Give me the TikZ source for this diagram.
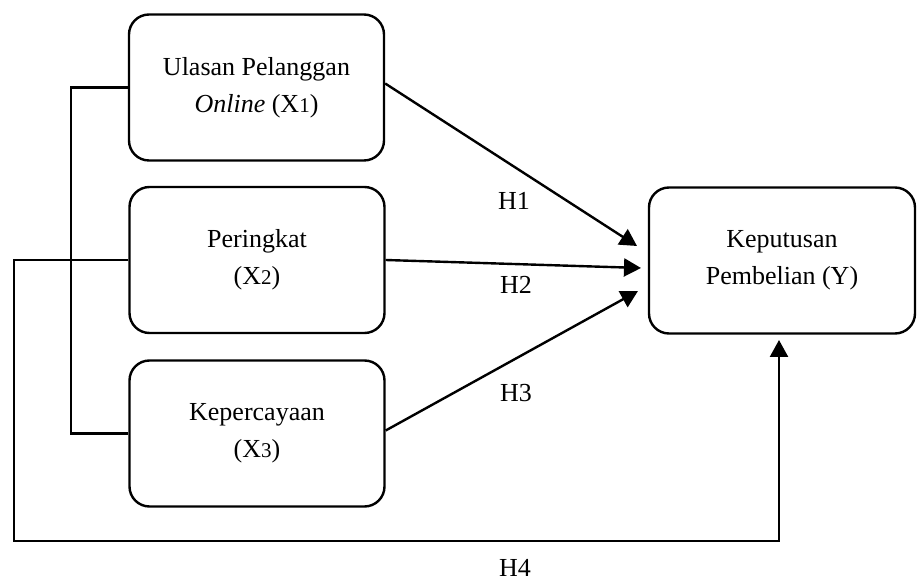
\documentclass[tikz,border=0pt]{standalone}
\usepackage{fontspec}
\setmainfont{Liberation Serif}
\usetikzlibrary{arrows.meta}
\newcommand{\idx}[1]{{\fontsize{10.5}{12}\selectfont #1}}

\begin{document}
\begin{tikzpicture}[x=0.5pt,y=-0.5pt,line width=1.2pt,
		>={Triangle[length=8.5pt,width=9pt]},
		var/.style={draw,rounded corners=10pt,minimum width=127.5pt,minimum height=73pt,
			align=center,font=\fontsize{13}{18.5}\selectfont},
		hlab/.style={inner sep=1pt,font=\fontsize{13}{15}\selectfont}]
			\useasboundingbox (0,0) rectangle (917,582);
			% variables
			\node[var] (x1) at (256.5,87.5) {Ulasan Pelanggan\\\textit{Online} (X\idx{1})};
			\node[var] (x2) at (257,260) {Peringkat\\(X\idx{2})};
			\node[var] (x3) at (257,433.5) {Kepercayaan\\(X\idx{3})};
			\node[var,minimum width=133pt] (y) at (782,260.5) {Keputusan\\Pembelian (Y)};
			% arrow tips in front of Y
			\coordinate (t1) at (637,246);
			\coordinate (t2) at (641,268);
			\coordinate (t3) at (638,291);
			\coordinate (t4) at (779,340);
			\coordinate (b4) at (14,541);
			% hypotheses
			\draw[->] ([yshift=2pt]x1.east) -- (t1);
			\draw[->] (x2.east) -- (t2);
			\draw[->] ([yshift=1.5pt]x3.east) -- (t3);
			\draw (x1.west) -- ++(-57,0) |- (x3.west);
			\draw[->] (x2.west) -| (b4) -| (t4);
			\node[hlab] (h1) at (514,201) {H1};
			\node[hlab] (h2) at (516,285) {H2};
			\node[hlab] (h3) at (516,393) {H3};
			\node[hlab] (h4) at (515,568) {H4};
		\end{tikzpicture}
\end{document}
